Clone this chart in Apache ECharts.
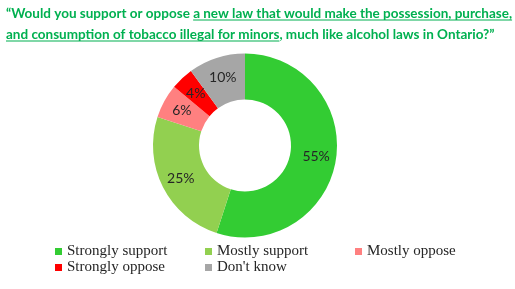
<!DOCTYPE html>
<html><head><meta charset="utf-8">
<script src="https://cdn.jsdelivr.net/npm/echarts@6/dist/echarts.min.js"></script>
<style>html,body{margin:0;padding:0;background:#fff}#c{width:515px;height:289px}</style>
</head><body><div id="c"></div>
<script>
const categories = ["Strongly support","Mostly support","Mostly oppose","Strongly oppose","Don't know"];
const values = [55,25,6,4,10];
const colors = ["#33CC33","#92D050","#FF8080","#FF0000","#A6A6A6"];
const titleLine1 = ["“Would you support or oppose ", "a new law that would make the possession, purchase,"];
const titleLine2 = ["and consumption of tobacco illegal for minors", ", much like alcohol laws in Ontario?”"];

const cv = document.createElement('canvas').getContext('2d');
cv.font = 'bold 15px Lato';
const targetW = 505;
const fs = Math.round(15 * targetW / cv.measureText(titleLine1.join('')).width * 10) / 10;
cv.font = 'bold ' + fs + 'px Lato';
const tx = 6, ty1 = 3, lh = 21;
const w1a = cv.measureText(titleLine1[0]).width;
const w1b = cv.measureText(titleLine1[1]).width;
const w2a = cv.measureText(titleLine2[0]).width;
const green = '#00B050';

const chart = echarts.init(document.getElementById('c'));
chart.setOption({
  animation: false,
  title: {
    left: tx, top: ty1, padding: 0,
    text: titleLine1.join('') + '\n' + titleLine2.join(''),
    textStyle: {fontFamily: 'Lato', fontWeight: 'bold', fontSize: fs, color: green, lineHeight: lh}
  },
  graphic: [
    {type:'line', shape:{x1: tx + w1a, y1: ty1 + 17, x2: tx + w1a + w1b, y2: ty1 + 17}, style:{stroke: green, lineWidth: 1.2}},
    {type:'line', shape:{x1: tx, y1: ty1 + lh + 17, x2: tx + w2a, y2: ty1 + lh + 17}, style:{stroke: green, lineWidth: 1.2}}
  ],
  legend: {
    left: 50, top: 239, width: 460, itemWidth: 7, itemHeight: 7, itemGap: 1,
    icon: 'rect',
    textStyle: {fontFamily: 'Liberation Serif', fontSize: 15, color: '#262626', width: 137, lineHeight: 15},
    data: categories
  },
  series: [{
    type: 'pie',
    center: [245, 145.5],
    radius: [46, 92],
    startAngle: 90,
    clockwise: true,
    avoidLabelOverlap: false,
    label: {
      show: true, position: 'inside', formatter: '{c}%',
      fontFamily: 'Lato', fontSize: 14, color: '#262626'
    },
    labelLine: {show: false},
    emphasis: {disabled: true},
    data: categories.map((n, i) => ({name: n, value: values[i], itemStyle: {color: colors[i]}}))
  }]
});
</script></body></html>
